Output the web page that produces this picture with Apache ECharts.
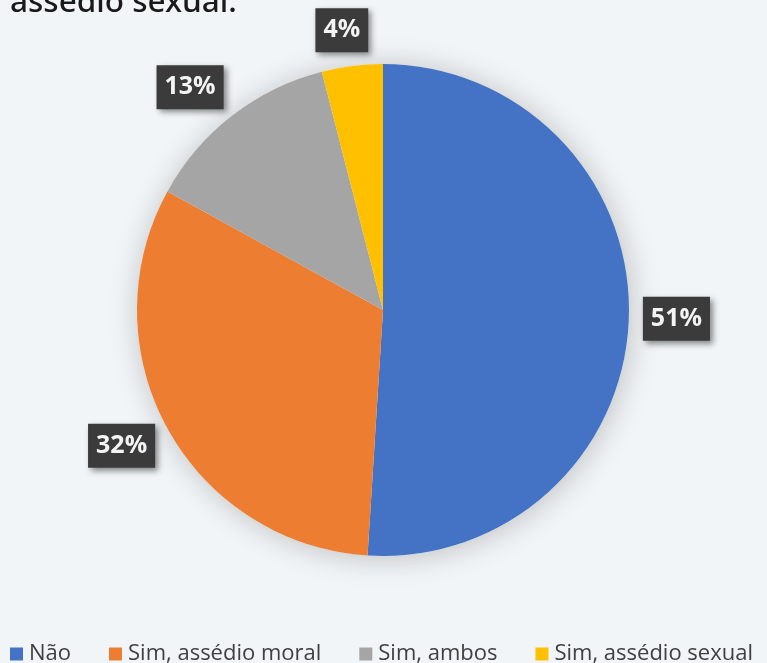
<!DOCTYPE html>
<html>
<head>
<meta charset="utf-8">
<script src="https://cdn.jsdelivr.net/npm/echarts@6/dist/echarts.min.js"></script>
<style>
  html, body { margin: 0; padding: 0; background: #f2f5f7; }
  #chart { width: 767px; height: 663px; }
</style>
</head>
<body>
<div id="chart"></div>
<script>
// Answers to the harassment question, in percent
const categories = ['Não', 'Sim, assédio moral', 'Sim, ambos', 'Sim, assédio sexual'];
const values = [51, 32, 13, 4];
const colors = ['#4472C4', '#ED7D31', '#A5A5A5', '#FFC000'];

const CX = 383, CY = 310, R = 246, GAP = 14;
const total = values.reduce((a, b) => a + b, 0);

// mid angle (radians, maths convention) of each slice, starting at 12 o'clock clockwise
function midAngle(i) {
  let before = 0;
  for (let k = 0; k < i; k++) before += values[k];
  const frac = (before + values[i] / 2) / total;
  return Math.PI / 2 - frac * 2 * Math.PI;
}
const clamp1 = v => Math.max(-1, Math.min(1, v));

const chart = echarts.init(document.getElementById('chart'), null, { renderer: 'canvas' });

chart.setOption({
  backgroundColor: '#f2f5f7',
  animation: false,
  graphic: [{
    type: 'text',
    left: 10,
    top: -13,
    style: {
      text: 'assédio sexual.',
      font: '500 31.5px "Noto Sans"',
      fill: '#1a1a1a'
    }
  }],
  legend: {
    data: categories,
    left: 10,
    top: 643,
    padding: 0,
    icon: 'rect',
    itemWidth: 13,
    itemHeight: 13,
    itemGap: 38,
    textStyle: { fontFamily: 'Open Sans', fontSize: 22, color: '#404040', padding: [0, 0, 0, 1] }
  },
  series: [
    {
      // soft drop shadow under the disc
      type: 'pie',
      center: [CX, CY],
      radius: R,
      silent: true,
      z: 1,
      label: { show: false },
      labelLine: { show: false },
      itemStyle: {
        color: '#f2f5f7',
        shadowBlur: 30,
        shadowColor: 'rgba(0,0,0,0.22)',
        shadowOffsetX: 2,
        shadowOffsetY: 2
      },
      data: [{ value: 1, name: '' }]
    },
    {
      type: 'pie',
      center: [CX, CY],
      radius: R,
      startAngle: 90,
      clockwise: true,
      z: 2,
      itemStyle: { borderWidth: 0 },
      data: categories.map((name, i) => ({ name, value: values[i], itemStyle: { color: colors[i] } })),
      label: {
        show: true,
        position: 'outside',
        formatter: '{c}%',
        fontFamily: 'Open Sans',
        fontWeight: 'bold',
        fontSize: 25,
        lineHeight: 28,
        color: '#f4f4f4',
        backgroundColor: '#3b3b3b',
        padding: [8, 8, 8, 8],
        shadowColor: 'rgba(0,0,0,0.45)',
        shadowBlur: 6,
        shadowOffsetX: 3,
        shadowOffsetY: 3
      },
      labelLine: { show: false },
      // box sits just outside the rim, its near side/corner facing the slice
      labelLayout: function (p) {
        const a = midAngle(p.dataIndex);
        const ux = Math.cos(a), uy = -Math.sin(a);
        const hw = p.labelRect.width / 2, hh = p.labelRect.height / 2;
        const px = CX + ux * (R + GAP), py = CY + uy * (R + GAP);
        return {
          x: px + hw * clamp1(ux * 2.6),
          y: py + hh * clamp1(uy),
          align: 'center',
          verticalAlign: 'middle'
        };
      }
    }
  ]
});
</script>
</body>
</html>
